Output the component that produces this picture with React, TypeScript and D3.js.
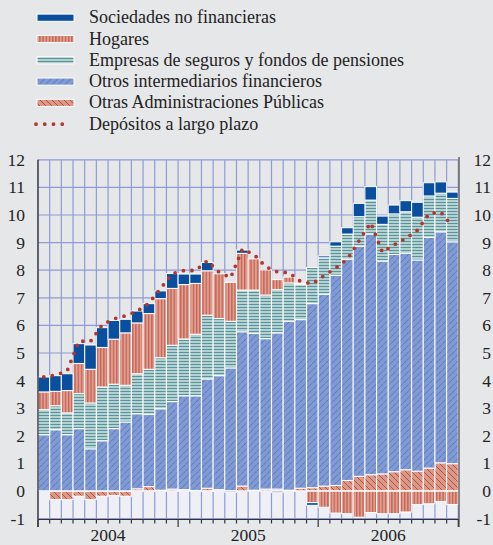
import React from 'react'
import * as d3 from 'd3'

// months Jan 2004 - Dec 2006
const years = ['2004', '2005', '2006']
const months = years.flatMap((yr) => d3.range(1, 13).map((m) => `${yr}-${String(m).padStart(2, '0')}`))

const sociedades = [0.54, 0.57, 0.61, 0.72, 0.88, 0.72, 0.68, 0.49, 0.43, 0.36, 0.28, 0.54, 0.38, 0.34, 0.3, 0, -0.05, 0.12, 0, 0, -0.06, 0, 0, -0.1, 0.07, 0.16, 0.23, 0.48, 0.49, 0.3, 0.32, 0.4, 0.54, 0.48, 0.41, 0.23]
const hogares = [0.64, 0.52, 0.81, 1.09, 1.22, 1.43, 1.63, 1.9, 1.84, 2.02, 2.14, 2.06, 1.97, 1.84, 1.61, 1.62, 1.41, 1.33, 1.13, 0.91, 0.36, 0.21, 0.04, -0.42, -0.59, -0.8, -0.82, -0.95, -0.78, -0.82, -0.82, -0.76, -0.49, -0.46, -0.38, -0.49]
const seguros = [0.91, 0.87, 0.79, 1.27, 1.66, 1.95, 1.61, 1.33, 1.45, 1.63, 1.85, 2.04, 2.06, 2.23, 2.31, 2.07, 1.69, 1.51, 1.57, 1.58, 1.57, 1.39, 1.27, 1.31, 1.32, 1.05, 0.91, 1.07, 1.23, 1.33, 1.47, 1.51, 1.55, 1.5, 1.4, 1.57]
const otrosIntermediarios = [2.04, 2.22, 2.04, 2.26, 1.53, 1.82, 2.26, 2.5, 2.72, 2.62, 2.95, 3.17, 3.4, 3.43, 3.96, 4.13, 4.46, 5.59, 5.68, 5.45, 5.66, 6.12, 6.11, 6.67, 6.95, 7.62, 8.02, 8.34, 8.72, 7.71, 7.87, 7.84, 7.65, 8.36, 8.37, 8.04]
const otrasAAPP = [0, -0.31, -0.31, -0.19, -0.31, -0.19, -0.16, -0.19, 0.08, 0.16, 0.03, 0.07, 0.05, 0.02, 0.1, 0.05, 0, 0.18, 0.03, 0.07, 0.07, 0.03, 0.1, 0.12, 0.18, 0.2, 0.38, 0.53, 0.59, 0.62, 0.7, 0.77, 0.72, 0.83, 1.02, 0.99]
const depositosLargoPlazo = [4.13, 4.2, 4.35, 5.43, 5.42, 6.02, 6.24, 6.35, 6.52, 6.8, 7.34, 7.87, 7.99, 7.99, 8.34, 7.93, 7.73, 8.76, 8.57, 8.13, 7.94, 7.91, 7.59, 7.51, 7.8, 8.08, 8.4, 9.07, 9.72, 8.65, 8.92, 9.15, 9.45, 10.05, 10.1, 9.6]

const yTicks = d3.range(-1, 13)

const legendItems = [
  { key: 'soc', label: 'Sociedades no financieras' },
  { key: 'hog', label: 'Hogares' },
  { key: 'seg', label: 'Empresas de seguros y fondos de pensiones' },
  { key: 'oif', label: 'Otros intermediarios financieros' },
  { key: 'aapp', label: 'Otras Administraciones Públicas' },
  { key: 'dep', label: 'Depósitos a largo plazo' },
]

const W = 493
const H = 545
const BG = '#e6e7e9'
const FONT = '"Liberation Serif", "Times New Roman", serif'

const fills: Record<string, string> = {
  soc: '#0a4f9e',
  hog: 'url(#p-hog)',
  seg: 'url(#p-seg)',
  oif: 'url(#p-oif)',
  aapp: 'url(#p-aapp)',
}

export default function App() {
  const x = d3.scaleBand<string>().domain(months).range([38, 458.3]).padding(0)
  const y = d3.scaleLinear().domain([-1, 12]).range([518.6, 159.8])
  const bw = x.bandwidth()

  const table = months.map((m, i) => ({
    month: m,
    aapp: otrasAAPP[i],
    oif: otrosIntermediarios[i],
    seg: seguros[i],
    hog: hogares[i],
    soc: sociedades[i],
  }))
  const series = d3
    .stack<any>()
    .keys(['aapp', 'oif', 'seg', 'hog', 'soc'])
    .offset(d3.stackOffsetDiverging)(table)

  const line = d3
    .line<number>()
    .x((_, i) => x(months[i])! + bw / 2)
    .y((d) => y(d))

  const [x0, x1] = x.range()
  const boundaries = d3.range(months.length + 1).map((i) => x0 + i * bw)

  return (
    <svg width={W} height={H} style={{ position: 'absolute', left: 0, top: 0 }} fontFamily={FONT}>
      <defs>
        <pattern id="p-hog" patternUnits="userSpaceOnUse" width={3.2} height={3}>
          <rect width={3.2} height={3} fill="#e0a090" />
          <rect x={1} width={1} height={3} fill="#bd4d42" />
        </pattern>
        <pattern id="p-seg" patternUnits="userSpaceOnUse" width={3} height={3}>
          <rect width={3} height={3} fill="#b4d1d1" />
          <rect y={1} width={3} height={1} fill="#5a939b" />
        </pattern>
        <pattern id="p-oif" patternUnits="userSpaceOnUse" width={6.5} height={6.5}>
          <rect width={6.5} height={6.5} fill="#829ad4" />
          <path d="M-1,7.5 L7.5,-1" stroke="#2857ab" strokeWidth={0.8} strokeDasharray="1.4 0.7" />
        </pattern>
        <pattern id="p-aapp" patternUnits="userSpaceOnUse" width={6} height={6}>
          <rect width={6} height={6} fill="#db9886" />
          <path d="M-1,-1 L7,7" stroke="#b2463c" strokeWidth={0.9} />
        </pattern>
      </defs>

      <rect width={W} height={H} fill={BG} />

      {/* lighter band below zero */}
      <rect x={x0} y={y(0)} width={x1 - x0} height={y(-1) - y(0)} fill="#eff0f6" />

      {/* grid */}
      <g stroke="#8e9bd6" strokeWidth={1.2}>
        {yTicks.map((t) => (
          <line key={t} x1={x0} x2={x1} y1={y(t)} y2={y(t)} />
        ))}
        {boundaries.map((bx, i) => (
          <line key={i} x1={bx} x2={bx} y1={y(12)} y2={y(-1)} />
        ))}
      </g>

      {/* stacked bars */}
      <g stroke="#ffffff" strokeWidth={1.1} strokeOpacity={0.9}>
        {series.map((s) =>
          s.map((d, i) => {
            const top = y(Math.max(d[0], d[1]))
            const bot = y(Math.min(d[0], d[1]))
            if (bot - top < 0.3) return null
            return (
              <rect key={s.key + i} x={x(months[i])} y={top} width={bw} height={bot - top} fill={fills[s.key]} />
            )
          })
        )}
      </g>

      {/* zero line */}
      <line x1={x0} x2={x1} y1={y(0)} y2={y(0)} stroke="#ffffff" strokeWidth={1.2} />

      {/* dotted line */}
      <path
        d={line(depositosLargoPlazo)!}
        fill="none"
        stroke="#b2362c"
        strokeWidth={3.8}
        strokeLinecap="round"
        strokeDasharray="0 8.6"
      />

      {/* axes */}
      <line x1={x0} x2={x0} y1={y(12)} y2={527} stroke="#333" strokeWidth={1.3} />
      <line x1={x1 + 0.7} x2={x1 + 0.7} y1={157} y2={527} stroke="#666" strokeWidth={1.5} />
      <line x1={x0} x2={x1 + 0.7} y1={519.5} y2={519.5} stroke="#333" strokeWidth={1.2} />
      {boundaries.map((bx, i) => (
        <line key={i} x1={bx} x2={bx} y1={519.5} y2={i % 12 === 0 ? 527 : 523.5} stroke="#333" strokeWidth={1.2} />
      ))}

      {/* axis labels */}
      <g fontSize={17.5} fill="#222">
        {yTicks.map((t) => (
          <text key={'l' + t} x={25} y={y(t) + 6} textAnchor="end">
            {t}
          </text>
        ))}
        {yTicks.map((t) => (
          <text key={'r' + t} x={491} y={y(t) + 6} textAnchor="end">
            {t}
          </text>
        ))}
        {years.map((yr, k) => (
          <text key={yr} x={x0 + (k * 12 + 6) * bw} y={541} textAnchor="middle">
            {yr}
          </text>
        ))}
      </g>

      {/* legend */}
      <g fontSize={18} fill="#222">
        {legendItems.map((it, i) => {
          const cy = 17.7 + i * 21.3
          return (
            <g key={it.key}>
              {it.key === 'dep' ? (
                <line
                  x1={36}
                  x2={71}
                  y1={cy}
                  y2={cy}
                  stroke="#b2362c"
                  strokeWidth={3.8}
                  strokeLinecap="round"
                  strokeDasharray="0 8.75"
                />
              ) : (
                <rect x={37} y={cy - 3.6} width={37} height={7.2} fill={fills[it.key]} stroke="#fff" strokeWidth={1} />
              )}
              <text x={89} y={cy + 5.5}>
                {it.label}
              </text>
            </g>
          )
        })}
      </g>
    </svg>
  )
}
